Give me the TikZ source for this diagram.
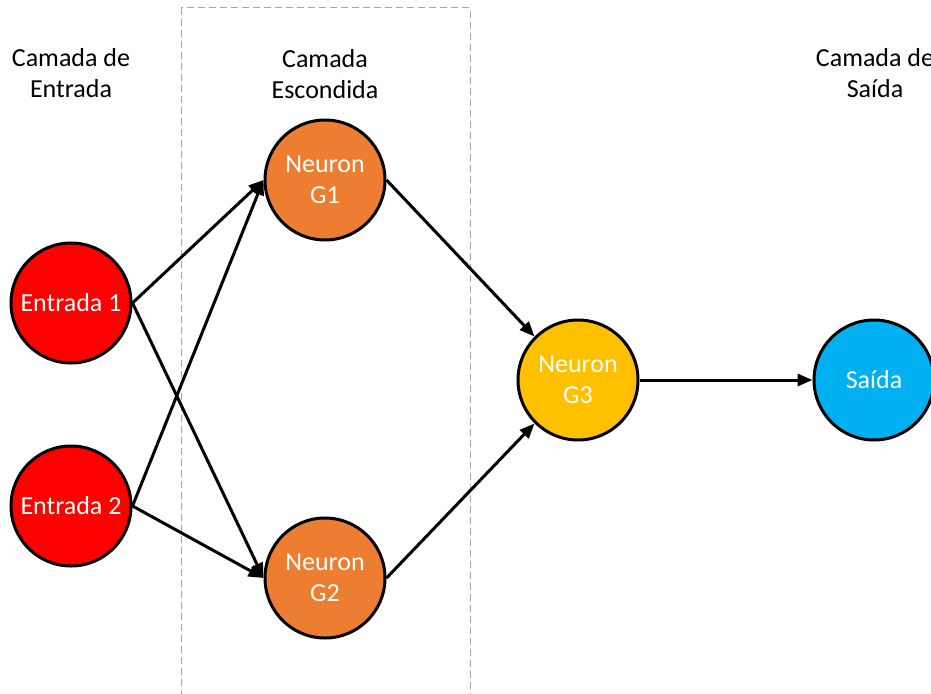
\documentclass[tikz,border=0pt]{standalone}
\usepackage{fontspec}
\setmainfont{Carlito}
\usetikzlibrary{arrows.meta}
\definecolor{inred}{HTML}{FF0000}
\definecolor{hidorange}{HTML}{ED7D31}
\definecolor{midgold}{HTML}{FFC000}
\definecolor{outblue}{HTML}{00B0F0}
\definecolor{boxgray}{HTML}{A6A6A6}
\begin{document}
\begin{tikzpicture}[x=1pt,y=-1pt,
  neuron/.style={circle,draw=black,line width=3pt,minimum size=120pt,inner sep=0pt,
    text=white,align=center,font=\fontsize{26}{31}\selectfont},
  layerlabel/.style={align=center,text=black,font=\fontsize{26}{31}\selectfont},
  link/.style={line width=3pt,-{Triangle[length=15pt,width=12pt]}},
  groupbox/.style={draw=boxgray,line width=1pt,dash pattern=on 7pt off 4pt}]
  \useasboundingbox (0,0) rectangle (931,693);
  \clip (0,0) rectangle (931,693);

  % hidden layer frame
  \draw[groupbox] (181,8) rectangle (470,710);

  % layer captions
  \node[layerlabel] (capin)  at (71,73)  {Camada de\\Entrada};
  \node[layerlabel] (caphid) at (325,74) {Camada\\Escondida};
  \node[layerlabel] (capout) at (875,73) {Camada de\\Saída};

  % neurons
  \node[neuron,fill=inred]     (e1) at (71,303)  {Entrada 1};
  \node[neuron,fill=inred]     (e2) at (71,506)  {Entrada 2};
  \node[neuron,fill=hidorange] (g1) at (325,180) {Neuron\\G1};
  \node[neuron,fill=hidorange] (g2) at (325,578) {Neuron\\G2};
  \node[neuron,fill=midgold]   (g3) at (578,380) {Neuron\\G3};
  \node[neuron,fill=outblue]   (out) at (874,380) {Saída};

  % connections
  \draw[link] (e1.east) -- (g1.west);
  \draw[link] (e2.east) -- (g1.west);
  \draw[link] (e1.east) -- (g2.west);
  \draw[link] (e2.east) -- (g2.west);
  \draw[link] (g1.east) -- (g3.north west);
  \draw[link] (g2.east) -- (g3.south west);
  \draw[link] (g3.east) -- (out.west);
\end{tikzpicture}
\end{document}
